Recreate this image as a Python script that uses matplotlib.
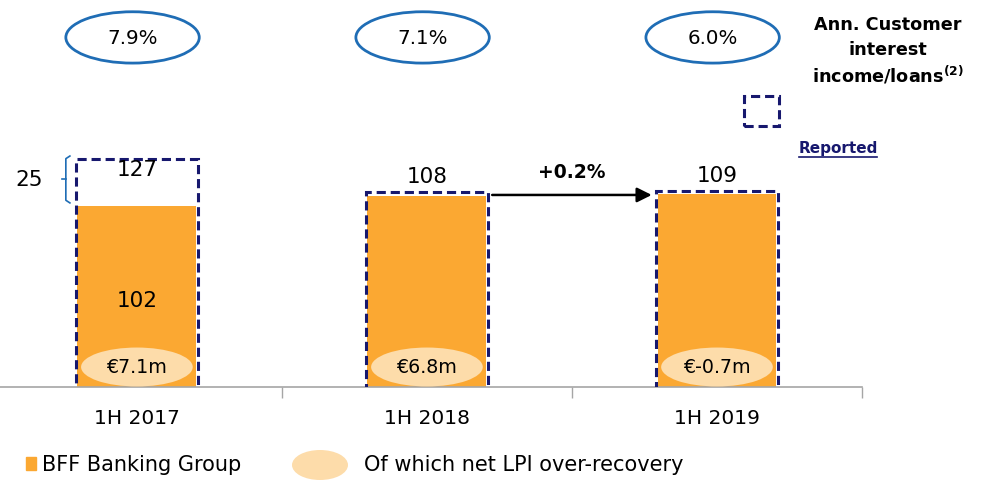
import matplotlib.pyplot as plt
from matplotlib.patches import Ellipse, Rectangle
import numpy as np

# Data
periods = ['1H 2017', '1H 2018', '1H 2019']
core_values = [102, 108, 109]          # BFF Banking Group
reported_values = [127, 108, 109]      # reported (dashed box)
lpi_labels = ['€7.1m', '€6.8m', '€-0.7m']
yield_labels = ['7.9%', '7.1%', '6.0%']
growth_label = '+0.2%'

ORANGE = '#FBA832'
LIGHT = '#FDDCAA'
NAVY = '#17186E'
BLUE = '#1F6DB5'
GREY = '#A6A6A6'

plt.rcParams['font.family'] = ['DejaVu Sans']

fig = plt.figure(figsize=(9.82, 4.81), dpi=100)
ax = fig.add_axes([0, 93 / 481, 862 / 982, 388 / 481])
ax.set_xlim(-0.472, 2.5)
ax.set_ylim(0, 388 / 1.77)

x = np.arange(len(periods))
width = 0.41

# bars
ax.bar(x, core_values, width=width, color=ORANGE, zorder=2)
ax.bar(x, [r + 3 for r in reported_values], width=width + 0.01, bottom=-1,
       fill=False, edgecolor=NAVY, linestyle=(0, (3, 1.6)), linewidth=2.2, zorder=3)

# value labels
for i in range(len(periods)):
    if reported_values[i] > core_values[i]:
        ax.text(x[i], reported_values[i] - 4, str(reported_values[i]),
                ha='center', va='center', fontsize=15.5)
        ax.text(x[i], core_values[i] * 0.48, str(core_values[i]),
                ha='center', va='center', fontsize=15.5)
    else:
        ax.text(x[i], core_values[i] + 11, str(core_values[i]),
                ha='center', va='center', fontsize=15.5)
    # LPI ellipse
    ax.add_patch(Ellipse((x[i], 11.3), 0.385, 22, facecolor=LIGHT,
                         edgecolor='none', zorder=4))
    ax.text(x[i], 11.3, lpi_labels[i], ha='center', va='center',
            fontsize=13.7, zorder=5)
    # yield ovals
    ax.add_patch(Ellipse((x[i] - 0.015, 197.5), 0.46, 29, facecolor='white',
                         edgecolor=BLUE, linewidth=2, clip_on=False))
    ax.text(x[i] - 0.015, 197.5, yield_labels[i], ha='center', va='center',
            fontsize=14.3)

# brace for 2017 difference
diff = reported_values[0] - core_values[0]
yb, yt = core_values[0] + 2, reported_values[0] + 3.5
ym = (yb + yt) / 2
bx = -0.245
ax.plot([bx + 0.014, bx, bx, bx + 0.014], [yt, yt - 1.5, yb + 1.5, yb],
        color=BLUE, lw=1.2, clip_on=False)
ax.plot([bx, bx - 0.014], [ym, ym], color=BLUE, lw=1.2, clip_on=False)
ax.text(-0.37, ym, str(diff), ha='center', va='center', fontsize=15.5)

# growth arrow
ya = core_values[1] + 0.5
ax.annotate('', xy=(x[2] - width / 2 - 0.02, ya), xytext=(x[1] + width / 2 + 0.02, ya),
            arrowprops=dict(arrowstyle='-|>', color='black', lw=1.8,
                            mutation_scale=22, shrinkA=0, shrinkB=0))
ax.text(1.5, ya + 13, growth_label, ha='center', va='center',
        fontsize=13.5, fontweight='bold')

# axes styling
for s in ['top', 'right', 'left']:
    ax.spines[s].set_visible(False)
ax.spines['bottom'].set_color(GREY)
ax.spines['bottom'].set_linewidth(1.2)
ax.set_yticks([])
ax.set_xticks(x)
ax.set_xticklabels(periods, fontsize=14.5)
ax.tick_params(axis='x', length=0, pad=15)
ax.set_xticks([0.5, 1.5, 2.5], minor=True)
ax.tick_params(axis='x', which='minor', length=8, color=GREY, width=1)

# top-right legend for reported
fig.text(888 / 982, 1 - 25 / 481, 'Ann. Customer', ha='center', va='center',
         fontsize=12.7, fontweight='bold')
fig.text(888 / 982, 1 - 50 / 481, 'interest', ha='center', va='center',
         fontsize=12.7, fontweight='bold')
fig.text(888 / 982, 1 - 75 / 481, r'income/loans$^{\mathbf{(2)}}$', ha='center',
         va='center', fontsize=12.7, fontweight='bold')
fig.add_artist(Rectangle((744 / 982, 1 - 127 / 481), 35 / 982, 30 / 481,
                         transform=fig.transFigure, fill=False, edgecolor=NAVY,
                         linestyle=(0, (3, 1.6)), linewidth=2.2))
fig.text(838 / 982, 1 - 149 / 481, 'Reported', ha='center', va='center',
         fontsize=11, fontweight='bold', color=NAVY)
fig.add_artist(plt.Line2D([799 / 982, 877 / 982], [1 - 158 / 481, 1 - 158 / 481],
                          transform=fig.transFigure, color=NAVY, lw=1.2))

# bottom legend
fig.add_artist(Rectangle((26 / 982, 1 - 471 / 481), 10 / 982, 13 / 481,
                         transform=fig.transFigure, color=ORANGE))
fig.text(42 / 982, 1 - 465 / 481, 'BFF Banking Group', ha='left', va='center',
         fontsize=15)
fig.add_artist(Ellipse((320 / 982, 1 - 466 / 481), 56 / 982, 30 / 481,
                       transform=fig.transFigure, facecolor=LIGHT, edgecolor='none'))
fig.text(364 / 982, 1 - 465 / 481, 'Of which net LPI over-recovery', ha='left',
         va='center', fontsize=15)

fig.savefig('out.png', dpi=100)
